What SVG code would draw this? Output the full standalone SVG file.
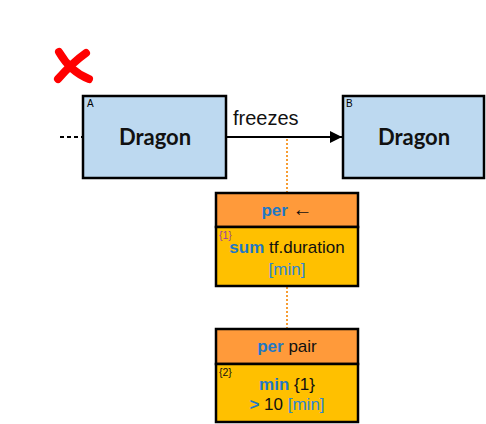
<svg xmlns="http://www.w3.org/2000/svg" width="486" height="424" viewBox="0 0 486 424">
<style>
.ent{fill:#BDD9F0;stroke:#000;stroke-width:2.5}
.big{font-family:Lato,"Open Sans",sans-serif;font-weight:bold;font-size:22px;fill:#111;text-anchor:middle}
.tag{font-family:"Liberation Sans",Arial,sans-serif;font-size:10px;fill:#000}
.hd{fill:#FF9A3A;stroke:#000;stroke-width:2.5}
.bd{fill:#FFC000;stroke:#000;stroke-width:2.5}
.t{font-family:"Liberation Sans",Arial,sans-serif;font-size:17px;fill:#111;text-anchor:middle}
.kw{fill:#1F78C4;font-weight:bold}
.un{fill:#2E86D0}
.sm{font-family:"Liberation Sans",Arial,sans-serif;font-size:10.5px}
</style>
<defs>
<marker id="ah" viewBox="0 0 10 10" refX="10" refY="5" markerWidth="12" markerHeight="12" markerUnits="userSpaceOnUse" orient="auto">
<path d="M0,0 L10,5 L0,10 Z" fill="#000"/>
</marker>
</defs>
<g id="connectors">
<line x1="60" y1="137" x2="83" y2="137" stroke="#000" stroke-width="2" stroke-dasharray="4,3"/>
<line x1="226" y1="137" x2="342" y2="137" stroke="#000" stroke-width="2" marker-end="url(#ah)"/>
<text x="233" y="125" font-family="'Liberation Sans',Arial,sans-serif" font-size="20" fill="#111">freezes</text>
<line x1="287" y1="139" x2="287" y2="192" stroke="#F7931E" stroke-width="1.8" stroke-dasharray="2,2"/>
<line x1="287" y1="287" x2="287" y2="328" stroke="#F7931E" stroke-width="1.8" stroke-dasharray="2,2"/>
</g>
<g id="cross">
<path d="M59,52 C66,64 76,74 89,79" stroke="#FF0000" stroke-width="8" fill="none" stroke-linecap="round"/>
<path d="M86,53 C76,60 66,70 58,79" stroke="#FF0000" stroke-width="8" fill="none" stroke-linecap="round"/>
</g>
<g id="nodeA">
<rect class="ent" x="83" y="96" width="143" height="82"/>
<text class="tag" x="87" y="107">A</text>
<text class="big" x="155" y="145">Dragon</text>
</g>
<g id="nodeB">
<rect class="ent" x="343" y="96" width="141" height="82"/>
<text class="tag" x="346" y="107">B</text>
<text class="big" x="414" y="145">Dragon</text>
</g>
<g id="per1">
<rect class="hd" x="216" y="193" width="142" height="34"/>
<rect class="bd" x="216" y="227" width="142" height="59"/>
<text class="t" x="287" y="216"><tspan class="kw">per</tspan> <tspan font-size="20">←</tspan></text>
<text class="sm" x="219" y="239" fill="#9B3FA0">{1}</text>
<text class="t" x="287" y="253"><tspan class="kw">sum</tspan> tf.duration</text>
<text class="t un" x="287" y="275">[min]</text>
</g>
<g id="per2">
<rect class="hd" x="216" y="329" width="142" height="35"/>
<rect class="bd" x="216" y="364" width="142" height="58"/>
<text class="t" x="287" y="352"><tspan class="kw">per</tspan> pair</text>
<text class="sm" x="219" y="376" fill="#111">{2}</text>
<text class="t" x="287" y="390"><tspan class="kw">min</tspan> {1}</text>
<text class="t" x="287" y="410"><tspan class="kw">&gt;</tspan> 10 <tspan class="un">[min]</tspan></text>
</g>
</svg>
